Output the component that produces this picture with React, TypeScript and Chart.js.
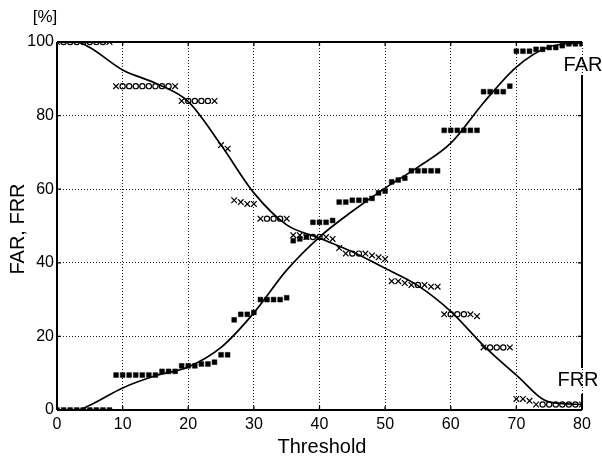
import React, { useEffect, useRef } from "react";
import { Chart, registerables } from "chart.js";
Chart.register(...registerables);

// Thresholds 0..80 (one measurement per integer threshold)
const FRR_POINTS = [
  100, 100, 100, 100, 100, 100, 100, 100, 100,
  88, 88, 88, 88, 88, 88, 88, 88, 88, 88,
  84, 84, 84, 84, 84, 84,
  72, 71,
  57, 56.5, 56, 56,
  52, 52, 52, 52, 52,
  47.5, 47.5, 47, 47, 47, 47, 46.5,
  44,
  42.5, 42.5, 42.5, 42.5, 42, 41.5, 41,
  35, 35, 34.5, 34, 34, 34, 33.5, 33.5,
  26, 26, 26, 26, 26, 25.5,
  17, 17, 17, 17, 17,
  3, 3, 2.5,
  1.5, 1.5, 1.5, 1.5, 1.5, 1.5, 1.5, 1.5,
];

const FAR_POINTS = [
  0, 0, 0, 0, 0, 0, 0, 0, 0,
  9.5, 9.5, 9.5, 9.5, 9.5, 9.5, 9.5,
  10.5, 10.5, 10.5,
  12, 12, 12, 12.5, 12.5, 13,
  15, 15,
  24.5,
  26, 26, 26.5,
  30, 30, 30, 30, 30.5,
  46, 46.5, 47,
  51, 51, 51, 51.5,
  56.5, 56.5, 57, 57, 57, 57.5,
  59, 59.5,
  62, 62.5, 63,
  65, 65, 65, 65, 65,
  76, 76, 76, 76, 76, 76,
  86.5, 86.5, 86.5, 86.5,
  88,
  97.5, 97.5, 97.5,
  98, 98, 98.5, 98.5, 99, 99.5, 99.5, 99.5,
];

// Smooth fitted curves, read at selected thresholds
const CURVE_X = [0, 3, 5, 10, 15, 20, 25, 30, 35, 40, 45, 50, 55, 60, 65, 70, 75, 80];
const FRR_CURVE = [100, 100, 98.5, 92.4, 88.8, 83.8, 72, 59, 50.3, 46.7, 43, 38.5, 33.8, 26.8, 17.5, 9.5, 2.2, 1.5];
const FAR_CURVE = [0, 0, 1.3, 6, 9.3, 11.7, 17, 26.4, 38, 47, 54, 60.3, 66, 72.5, 83.5, 93.2, 98.7, 99.8];

const X_TICKS = [0, 10, 20, 30, 40, 50, 60, 70, 80];
const Y_TICKS = [0, 20, 40, 60, 80, 100];

const FONT = '"Liberation Sans", Arial, Helvetica, sans-serif';

export default function App() {
  const ref = useRef<HTMLCanvasElement | null>(null);

  useEffect(() => {
    if (!ref.current) return;
    const toPts = (arr: number[]) => arr.map((v, i) => ({ x: i, y: v }));
    const toCurve = (arr: number[]) => arr.map((v, i) => ({ x: CURVE_X[i], y: v }));

    const framePlugin = {
      id: "frame",
      afterDraw(chart: any) {
        const { ctx, chartArea: a, scales } = chart;
        const L = a.left, R = a.right, T = a.top, B = a.bottom;
        ctx.save();
        ctx.strokeStyle = "#000";
        ctx.lineWidth = 2;
        ctx.beginPath();
        ctx.moveTo(L, T); ctx.lineTo(R, T);
        ctx.moveTo(L, T); ctx.lineTo(L, B);
        ctx.moveTo(L, B); ctx.lineTo(R, B);
        ctx.moveTo(R, T + 33); ctx.lineTo(R, B - 42);
        ctx.moveTo(R, B - 16); ctx.lineTo(R, B);
        ctx.stroke();
        // inward tick marks
        ctx.lineWidth = 1.3;
        ctx.beginPath();
        X_TICKS.forEach((t) => {
          const x = scales.x.getPixelForValue(t);
          ctx.moveTo(x, B); ctx.lineTo(x, B - 4);
          ctx.moveTo(x, T); ctx.lineTo(x, T + 4);
        });
        Y_TICKS.forEach((t) => {
          const y = scales.y.getPixelForValue(t);
          ctx.moveTo(L, y); ctx.lineTo(L + 4, y);
          if (y > T + 33 && y < B - 42) { ctx.moveTo(R, y); ctx.lineTo(R - 4, y); }
        });
        ctx.stroke();

        ctx.fillStyle = "#000";
        ctx.textAlign = "center";
        ctx.textBaseline = "middle";
        ctx.font = `20px ${FONT}`;
        ctx.fillText("FAR", 583, 65);
        ctx.fillText("FRR", 578, 380);
        ctx.font = `17px ${FONT}`;
        ctx.fillText("[%]", 45, 17);
        ctx.font = `20px ${FONT}`;
        ctx.fillText("Threshold", 322, 447);
        ctx.save();
        ctx.translate(18, 229);
        ctx.rotate(-Math.PI / 2);
        ctx.font = `20px ${FONT}`;
        ctx.fillText("FAR, FRR", 0, 0);
        ctx.restore();
        ctx.restore();
      },
    };

    const chart = new Chart(ref.current, {
      type: "line",
      data: {
        datasets: [
          {
            label: "FRR",
            data: toPts(FRR_POINTS),
            showLine: false,
            borderColor: "#000",
            backgroundColor: "rgba(0,0,0,0)",
            borderWidth: 1.2,
            pointStyle: (c: any) => {
              const i = c.dataIndex;
              const v = FRR_POINTS[i];
              const p = FRR_POINTS[i - 1];
              const n = FRR_POINTS[i + 1];
              return p !== v || n !== v ? "crossRot" : "circle";
            },
            pointRadius: (c: any) => {
              const i = c.dataIndex;
              const v = FRR_POINTS[i];
              return FRR_POINTS[i - 1] !== v || FRR_POINTS[i + 1] !== v ? 4 : 2.6;
            },
          },
          {
            label: "FAR",
            data: toPts(FAR_POINTS),
            showLine: false,
            borderColor: "#000",
            backgroundColor: "#000",
            borderWidth: 0.5,
            pointStyle: "rect",
            pointRadius: 3.4,
          },
          {
            label: "FRR curve",
            data: toCurve(FRR_CURVE),
            borderColor: "#000",
            borderWidth: 1.7,
            pointRadius: 0,
            cubicInterpolationMode: "monotone",
          },
          {
            label: "FAR curve",
            data: toCurve(FAR_CURVE),
            borderColor: "#000",
            borderWidth: 1.7,
            pointRadius: 0,
            cubicInterpolationMode: "monotone",
          },
        ],
      },
      options: {
        animation: false,
        responsive: false,
        layout: { padding: { top: 42, right: 20, left: 0, bottom: 0 } },
        plugins: { legend: { display: false }, tooltip: { enabled: false } },
        scales: {
          x: {
            type: "linear",
            min: 0,
            max: 80,
            afterFit: (s: any) => { s.height = 48; },
            afterBuildTicks: (s: any) => { s.ticks = X_TICKS.map((v) => ({ value: v })); },
            ticks: { color: "#000", font: { family: FONT, size: 16 }, padding: 5, maxRotation: 0 },
            grid: { color: "#000", lineWidth: 0.9, drawTicks: false },
            border: { display: false, dash: [1, 2] },
          },
          y: {
            type: "linear",
            min: 0,
            max: 100,
            afterFit: (s: any) => { s.width = 57; },
            afterBuildTicks: (s: any) => { s.ticks = Y_TICKS.map((v) => ({ value: v })); },
            ticks: { color: "#000", font: { family: FONT, size: 16 }, padding: 3 },
            grid: { color: "#000", lineWidth: 0.9, drawTicks: false },
            border: { display: false, dash: [1, 2] },
          },
        },
      },
      plugins: [framePlugin],
    } as any);
    return () => chart.destroy();
  }, []);

  return (
    <div style={{ position: "fixed", left: 0, top: 0, width: 602, height: 458, background: "#fff" }}>
      <canvas ref={ref} width={602} height={458} style={{ display: "block" }} />
    </div>
  );
}
